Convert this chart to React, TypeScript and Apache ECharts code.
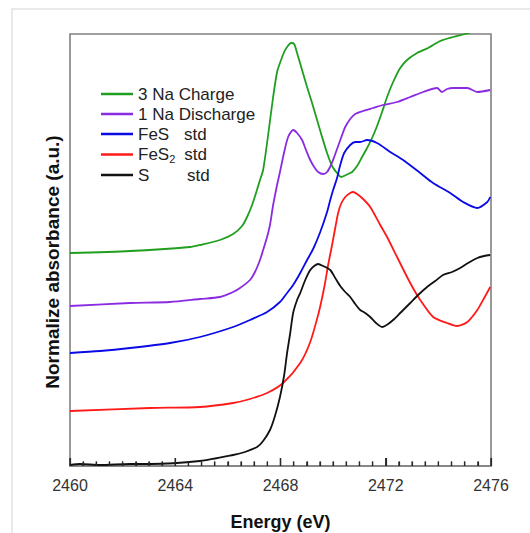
import React, { useEffect, useRef } from "react";
import * as echarts from "echarts";

const seriesNames = ["3 Na Charge", "1 Na Discharge", "FeS std", "FeS2 std", "S std"];
const seriesColors = ["#1f9e1f", "#8a2be2", "#0a0ae6", "#ff1a1a", "#111111"];
const xTickValues = [2460, 2464, 2468, 2472, 2476];
const minorTickValues = [2460.5, 2461, 2461.5, 2462, 2462.5, 2463, 2463.5, 2464.5, 2465, 2465.5, 2466, 2466.5, 2467, 2467.5, 2468.5, 2469, 2469.5, 2470, 2470.5, 2471, 2471.5, 2472.5, 2473, 2473.5, 2474, 2474.5, 2475, 2475.5];

const chargeE = [2460.00, 2462.28, 2464.56, 2464.94, 2465.70, 2466.20, 2466.54, 2466.73, 2466.92, 2467.07, 2467.22, 2467.34, 2467.53, 2467.72, 2467.87, 2467.98, 2468.14, 2468.25, 2468.40, 2468.52, 2468.63, 2468.82, 2469.01, 2469.20, 2469.39, 2469.58, 2469.77, 2469.96, 2470.15, 2470.30, 2470.49, 2470.72, 2470.91, 2471.10, 2471.29, 2471.48, 2471.67, 2471.86, 2472.05, 2472.28, 2472.55, 2472.81, 2473.19, 2473.61, 2474.07, 2474.56, 2475.02, 2475.40, 2475.97];
const chargeA = [2.13, 2.15, 2.19, 2.21, 2.26, 2.32, 2.40, 2.49, 2.61, 2.73, 2.86, 2.96, 3.31, 3.69, 3.94, 4.03, 4.14, 4.19, 4.23, 4.22, 4.13, 3.96, 3.79, 3.63, 3.46, 3.29, 3.13, 3.00, 2.93, 2.89, 2.91, 2.94, 3.00, 3.09, 3.18, 3.28, 3.40, 3.54, 3.69, 3.84, 3.98, 4.06, 4.13, 4.18, 4.25, 4.29, 4.32, 4.35, 4.38];

const dischargeE = [2460.00, 2462.28, 2463.80, 2464.94, 2465.70, 2466.20, 2466.46, 2466.84, 2467.03, 2467.22, 2467.34, 2467.49, 2467.60, 2467.72, 2467.87, 2467.98, 2468.14, 2468.29, 2468.48, 2468.63, 2468.82, 2468.97, 2469.13, 2469.28, 2469.43, 2469.62, 2469.77, 2469.92, 2470.04, 2470.15, 2470.30, 2470.46, 2470.65, 2470.84, 2471.14, 2471.52, 2471.90, 2472.43, 2472.93, 2473.42, 2473.95, 2474.14, 2474.33, 2474.56, 2475.10, 2475.48, 2475.97];
const dischargeA = [1.60, 1.63, 1.64, 1.67, 1.69, 1.74, 1.78, 1.86, 1.94, 2.06, 2.16, 2.29, 2.41, 2.61, 2.81, 2.94, 3.14, 3.29, 3.36, 3.33, 3.26, 3.16, 3.06, 2.99, 2.94, 2.92, 2.94, 3.01, 3.09, 3.17, 3.28, 3.39, 3.47, 3.52, 3.55, 3.58, 3.61, 3.64, 3.69, 3.74, 3.78, 3.74, 3.77, 3.78, 3.78, 3.74, 3.76];

const fesE = [2460.00, 2461.14, 2462.28, 2463.80, 2464.94, 2466.20, 2466.84, 2467.49, 2467.98, 2468.25, 2468.48, 2468.75, 2469.01, 2469.24, 2469.51, 2469.77, 2469.89, 2470.00, 2470.15, 2470.27, 2470.42, 2470.65, 2470.84, 2471.03, 2471.29, 2471.67, 2472.17, 2472.66, 2473.31, 2473.80, 2474.45, 2474.94, 2475.48, 2475.86, 2475.97];
const fesA = [1.13, 1.15, 1.18, 1.23, 1.29, 1.39, 1.46, 1.54, 1.64, 1.73, 1.81, 1.93, 2.06, 2.17, 2.34, 2.54, 2.66, 2.76, 2.88, 3.01, 3.13, 3.21, 3.24, 3.24, 3.26, 3.23, 3.14, 3.06, 2.93, 2.83, 2.73, 2.64, 2.58, 2.64, 2.69];

const fes2E = [2460.00, 2463.04, 2464.94, 2466.20, 2466.84, 2467.49, 2468.10, 2468.75, 2469.13, 2469.43, 2469.58, 2469.70, 2469.81, 2469.96, 2470.08, 2470.19, 2470.30, 2470.46, 2470.65, 2470.76, 2470.91, 2471.14, 2471.41, 2471.79, 2472.05, 2472.43, 2472.93, 2473.31, 2473.80, 2474.33, 2474.71, 2475.10, 2475.48, 2475.74, 2475.97];
const fes2A = [0.55, 0.58, 0.59, 0.63, 0.67, 0.73, 0.83, 1.03, 1.24, 1.51, 1.68, 1.84, 2.01, 2.21, 2.38, 2.53, 2.62, 2.69, 2.73, 2.74, 2.72, 2.67, 2.59, 2.41, 2.29, 2.09, 1.83, 1.66, 1.49, 1.43, 1.40, 1.44, 1.56, 1.68, 1.79];

const sulfurE = [2460.00, 2460.38, 2461.14, 2462.28, 2463.04, 2464.94, 2466.20, 2466.65, 2467.11, 2467.34, 2467.60, 2467.79, 2467.98, 2468.14, 2468.25, 2468.37, 2468.48, 2468.63, 2468.75, 2468.94, 2469.13, 2469.28, 2469.43, 2469.62, 2469.89, 2470.08, 2470.27, 2470.46, 2470.65, 2470.84, 2471.03, 2471.22, 2471.41, 2471.63, 2471.86, 2472.09, 2472.28, 2472.55, 2472.93, 2473.23, 2473.57, 2473.88, 2474.18, 2474.52, 2474.83, 2475.13, 2475.48, 2475.74, 2475.97];
const sulfurA = [0.01, 0.02, 0.01, 0.02, 0.02, 0.05, 0.11, 0.14, 0.19, 0.25, 0.36, 0.50, 0.69, 0.91, 1.13, 1.33, 1.53, 1.66, 1.73, 1.86, 1.96, 2.00, 2.02, 2.00, 1.96, 1.88, 1.80, 1.74, 1.69, 1.62, 1.56, 1.53, 1.49, 1.43, 1.39, 1.42, 1.46, 1.53, 1.63, 1.71, 1.79, 1.85, 1.91, 1.94, 1.98, 2.03, 2.08, 2.10, 2.11];

const energies = [chargeE, dischargeE, fesE, fes2E, sulfurE];
const absorbances = [chargeA, dischargeA, fesA, fes2A, sulfurA];

const FONT = "'Liberation Sans', Arial, Helvetica, sans-serif";

export default function App() {
  const ref = useRef<HTMLDivElement>(null);
  useEffect(() => {
    if (!ref.current) return;
    const chart = echarts.init(ref.current, null, { renderer: "svg" });
    const series: any[] = seriesNames.map((name, i) => ({
      name,
      type: "line",
      data: energies[i].map((e, j) => [e, absorbances[i][j]]),
      showSymbol: false,
      symbol: "none",
      smooth: 0.25,
      clip: true,
      lineStyle: { color: seriesColors[i], width: 1.8 },
      itemStyle: { color: seriesColors[i] },
    }));
    series.push({
      name: "majorTicks",
      type: "scatter",
      silent: true,
      clip: false,
      z: 5,
      symbol: "rect",
      symbolSize: [1.4, 8],
      symbolOffset: [0, -4],
      itemStyle: { color: "#2a2a2a", opacity: 1 },
      data: xTickValues.map((v) => [v, 0]),
    });
    series.push({
      name: "minorTicks",
      type: "scatter",
      silent: true,
      clip: false,
      z: 5,
      symbol: "rect",
      symbolSize: [1.3, 4.5],
      symbolOffset: [0, -2.25],
      itemStyle: { color: "#2a2a2a", opacity: 1 },
      data: minorTickValues.map((v) => [v, 0]),
    });
    chart.setOption({
      animation: false,
      textStyle: { fontFamily: FONT },
      graphic: [
        {
          type: "rect",
          shape: { x: 12, y: 9, width: 600, height: 600 },
          style: { fill: "none", stroke: "#e2e2e2", lineWidth: 1.5 },
          silent: true,
        },
        {
          type: "text",
          x: 52,
          y: 262,
          rotation: Math.PI / 2,
          style: {
            text: "Normalize absorbance (a.u.)",
            font: `bold 19px ${FONT}`,
            fill: "#111",
            align: "center",
            verticalAlign: "middle",
          },
        },
      ],
      grid: {
        left: 70,
        top: 34,
        right: 39,
        bottom: 67,
        outerBoundsMode: "none",
        containLabel: false,
        show: true,
        borderColor: "#808080",
        borderWidth: 1.6,
        backgroundColor: "transparent",
      },
      legend: {
        orient: "vertical",
        left: 96,
        top: 80,
        icon: "rect",
        itemWidth: 32,
        itemHeight: 2.5,
        itemGap: 2,
        data: seriesNames,
        formatter: (name: string) => {
          if (name === "FeS std") return "{w2|FeS}std";
          if (name === "FeS2 std") return "{w3|FeS}{sub|2}{sp|}std";
          if (name === "S std") return "{w1|S}std";
          return name;
        },
        textStyle: {
          fontFamily: FONT,
          fontSize: 17,
          color: "#222",
          lineHeight: 18,
          rich: {
            w1: { fontSize: 17, fontFamily: FONT, color: "#222", width: 49, lineHeight: 18 },
            w2: { fontSize: 17, fontFamily: FONT, color: "#222", width: 46, lineHeight: 18 },
            w3: { fontSize: 17, fontFamily: FONT, color: "#222", lineHeight: 18 },
            sub: { fontSize: 11, fontFamily: FONT, color: "#222", lineHeight: 10, padding: [8, 0, 0, 0] },
            sp: { width: 9, lineHeight: 18 },
          },
        },
      },
      xAxis: {
        type: "value",
        min: xTickValues[0],
        max: xTickValues[xTickValues.length - 1],
        interval: 4,
        name: "Energy (eV)",
        nameLocation: "middle",
        nameGap: 47,
        nameTextStyle: { fontFamily: FONT, fontSize: 18, fontWeight: "bold", color: "#111" },
        axisLine: { show: true, onZero: false, lineStyle: { color: "#808080", width: 1.6 } },
        axisTick: { show: true, inside: true, length: 8, lineStyle: { color: "#2a2a2a", width: 1.2 } },
        minorTick: { show: true, splitNumber: 8, length: 4.5, lineStyle: { color: "#2a2a2a", width: 1.2 } },
        axisLabel: { fontFamily: FONT, fontSize: 16, color: "#333", margin: 11, formatter: (v: number) => String(v) },
        splitLine: { show: false },
        minorSplitLine: { show: false },
      },
      yAxis: {
        type: "value",
        min: 0,
        max: 4.32,
        axisLine: { show: false },
        axisTick: { show: false },
        axisLabel: { show: false },
        splitLine: { show: false },
      },
      series,
    });
    return () => chart.dispose();
  }, []);
  return (
    <div
      ref={ref}
      style={{ position: "absolute", left: 0, top: 0, width: 530, height: 533, background: "#fff" }}
    />
  );
}
